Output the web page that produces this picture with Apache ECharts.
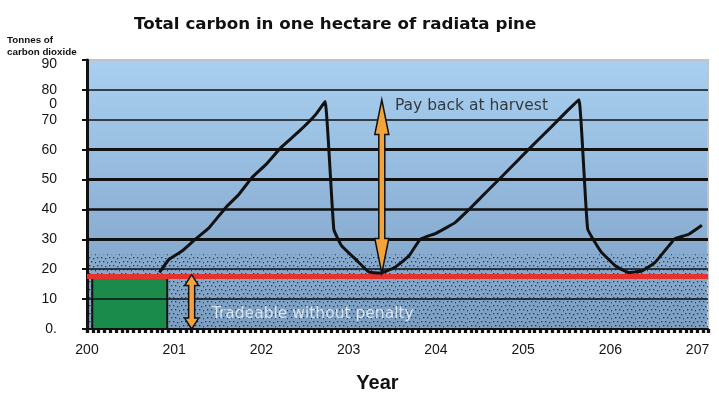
<!DOCTYPE html>
<html>
<head>
<meta charset="utf-8">
<script src="https://cdn.jsdelivr.net/npm/echarts@6/dist/echarts.min.js"></script>
<style>
  html, body { margin: 0; padding: 0; background: #fff; }
  #chart { width: 719px; height: 398px; }
</style>
</head>
<body>
<div id="chart"></div>
<script>
// carbon stock over time (years, tonnes CO2)
const carbonYears = [2008.3, 2009.4, 2010.9, 2012.4, 2014.0, 2015.9, 2017.4, 2018.9, 2020.5, 2022.2, 2024.3, 2026.2, 2027.3,
  2028.3, 2029.2, 2030.8, 2032.3, 2033.6, 2035.3, 2036.9, 2038.2, 2040.0, 2042.2, 2043.8, 2045.7, 2047.6, 2050.6, 2053.3, 2055.0, 2056.4,
  2057.4, 2058.9, 2060.6, 2062.1, 2063.6, 2065.1, 2066.7, 2067.4, 2069.0, 2070.5];
const carbonValues = [18.9, 23.3, 26.1, 30.0, 33.9, 40.6, 45.0, 50.6, 55.0, 60.6, 66.1, 71.7, 76.1,
  33.3, 27.8, 23.3, 19.1, 18.7, 20.6, 24.4, 30.0, 32.0, 35.6, 40.0, 45.6, 51.1, 60.0, 67.8, 72.8, 76.7,
  33.5, 26.0, 21.1, 18.9, 19.4, 22.2, 27.8, 30.2, 31.7, 34.7];

// the stray "0" under 80 in the original is carried by the 70 label
const yTickLabels = ['0.', '10', '20', '30', '40', '50', '60', '0\n\n70\n\n', '80', '\n90'];
const xTickLabels = ['200', '201', '202', '203', '204', '205', '206', '207'];

const gridLevels = [10, 20, 30, 40, 50, 60, 70, 80];
const tradeableLimit = 17.8;
const stippleBand = [0, 25];
const plantingBox = [[2000.6, 0], [2009.2, 17.3]];

const arrowX = [2033.8, 2012.0];
const arrowFrom = [18.7, 0];
const arrowTo = [76.7, 18.2];

const noteTexts = ['Pay back at harvest', 'Tradeable without penalty'];
const noteX = [2035.3, 2014.3];
const noteY = [74.7, 5.0];

// line weights of the horizontal rules, same order as gridLevels
const gridWidths = [1.5, 1.5, 3, 2.5, 3, 3, 1.5, 1.5];
const noteColors = ['#151515', '#f2f6fb'];

function stipple() {
  const c = document.createElement('canvas');
  c.width = 12;
  c.height = 8;
  const g = c.getContext('2d');
  g.fillStyle = 'rgba(22, 36, 66, 0.85)';
  [[1, 1], [5, 1], [9, 2], [3, 5], [7, 5], [11, 6]].forEach(([x, y]) => g.fillRect(x, y, 1.3, 1.3));
  return c;
}

function renderArrow(params, api) {
  const a = api.coord([api.value(0), api.value(1)]);
  const b = api.coord([api.value(0), api.value(2)]);
  const x = a[0];
  const top = Math.min(a[1], b[1]);
  const bot = Math.max(a[1], b[1]);
  const hl = (bot - top) * 0.2;
  const hw = 7;
  const sw = 3;
  return {
    type: 'polygon',
    shape: {
      points: [
        [x, top], [x + hw, top + hl], [x + sw, top + hl], [x + sw, bot - hl], [x + hw, bot - hl],
        [x, bot], [x - hw, bot - hl], [x - sw, bot - hl], [x - sw, top + hl], [x - hw, top + hl],
      ],
    },
    style: { fill: '#f2a33a', stroke: '#111', lineWidth: 1.5 },
  };
}

const chart = echarts.init(document.getElementById('chart'), null, { renderer: 'canvas' });

chart.setOption({
  animation: false,
  textStyle: { fontFamily: 'Liberation Sans, Arial, sans-serif' },
  title: [
    {
      text: 'Total carbon in one hectare of radiata pine',
      left: 129,
      top: 11,
      textStyle: { fontFamily: 'DejaVu Sans, sans-serif', fontSize: 16.7, fontWeight: 'bold', color: '#111' },
    },
    {
      text: 'Tonnes of\ncarbon dioxide',
      left: 2,
      top: 29,
      textStyle: { fontSize: 9.8, fontWeight: 'bold', color: '#111', lineHeight: 12 },
    },
  ],
  grid: {
    left: 87,
    right: 11,
    top: 60,
    bottom: 68,
    show: true,
    borderColor: '#c4c4c4',
    borderWidth: 2,
    backgroundColor: new echarts.graphic.LinearGradient(0, 0, 0, 1, [
      { offset: 0, color: '#a9d0f0' },
      { offset: 0.55, color: '#8fb4d8' },
      { offset: 1, color: '#7c9ec0' },
    ]),
  },
  xAxis: {
    type: 'value',
    min: 2000,
    max: 2071.2,
    interval: 10,
    name: 'Year',
    nameLocation: 'middle',
    nameGap: 44,
    nameTextStyle: { fontSize: 20, fontWeight: 'bold', color: '#111', padding: [0, 40, 0, 0] },
    axisLine: { lineStyle: { color: '#111', width: 2 } },
    axisTick: { length: 4, lineStyle: { color: '#111', width: 3.3 } },
    minorTick: { show: true, splitNumber: 15, length: 4, lineStyle: { color: '#111', width: 3.3 } },
    splitLine: { show: false },
    axisLabel: {
      fontSize: 14,
      color: '#151515',
      margin: 14,
      showMaxLabel: false,
      formatter: (v) => ((v - 2000) % 10 === 0 ? xTickLabels[Math.round((v - 2000) / 10)] : ''),
    },
  },
  yAxis: {
    type: 'value',
    min: 0,
    max: 90,
    interval: 10,
    axisLine: { show: true, lineStyle: { color: '#111', width: 3 } },
    axisTick: { show: true, length: 5, lineStyle: { color: '#111', width: 2 } },
    splitLine: { show: false },
    axisLabel: {
      fontSize: 14,
      color: '#151515',
      margin: 30,
      lineHeight: 8,
      showMaxLabel: true,
      showMinLabel: true,
      hideOverlap: false,
      formatter: (v) => yTickLabels[Math.round(v / 10)],
    },
  },
  series: [
    {
      name: 'stipple',
      type: 'line',
      data: [],
      z: 1,
      silent: true,
      markArea: {
        silent: true,
        itemStyle: { color: { image: stipple(), repeat: 'repeat' } },
        data: [[{ yAxis: stippleBand[0] }, { yAxis: stippleBand[1] }]],
      },
    },
    {
      name: 'rules',
      type: 'line',
      data: [],
      z: 2,
      silent: true,
      markLine: {
        silent: true,
        symbol: 'none',
        label: { show: false },
        data: gridLevels.map((v, i) => ({
          yAxis: v,
          lineStyle: { color: '#111', width: gridWidths[i], type: 'solid' },
        })),
      },
    },
    {
      name: 'planting',
      type: 'line',
      data: [],
      z: 3,
      silent: true,
      markArea: {
        silent: true,
        itemStyle: { color: '#1b8b4c', borderColor: '#111', borderWidth: 2 },
        data: [[{ coord: plantingBox[0] }, { coord: plantingBox[1] }]],
      },
    },
    {
      name: 'limit',
      type: 'line',
      data: [],
      z: 4,
      silent: true,
      markLine: {
        silent: true,
        symbol: 'none',
        label: { show: false },
        data: [{ yAxis: tradeableLimit }],
        lineStyle: { color: '#e5322e', width: 5, type: 'solid' },
      },
    },
    {
      name: 'carbon',
      type: 'line',
      z: 5,
      showSymbol: false,
      smooth: 0.1,
      lineStyle: { color: '#111', width: 3 },
      data: carbonYears.map((x, i) => [x, carbonValues[i]]),
    },
    {
      name: 'arrows',
      type: 'custom',
      z: 6,
      silent: true,
      renderItem: renderArrow,
      data: arrowX.map((x, i) => [x, arrowFrom[i], arrowTo[i]]),
    },
    {
      name: 'notes',
      type: 'scatter',
      z: 7,
      silent: true,
      symbolSize: 0,
      data: noteX.map((x, i) => ({
        value: [x, noteY[i]],
        label: {
          show: true,
          position: [0, 0],
          align: 'left',
          verticalAlign: 'middle',
          fontFamily: 'DejaVu Sans, sans-serif',
          fontSize: 15.5,
          color: noteColors[i],
          formatter: () => noteTexts[i],
        },
      })),
    },
  ],
});
</script>
</body>
</html>
